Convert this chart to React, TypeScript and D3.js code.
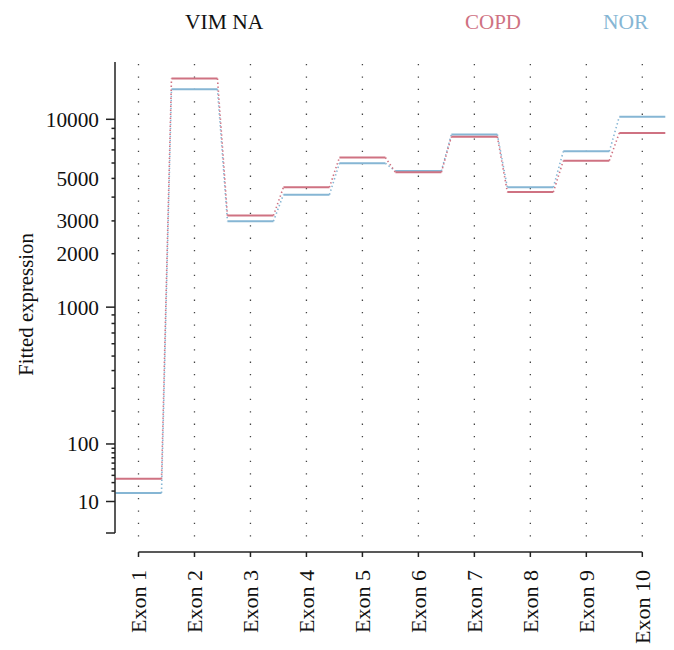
import React from "react";
import * as d3 from "d3";

const categories = ["Exon 1", "Exon 2", "Exon 3", "Exon 4", "Exon 5", "Exon 6", "Exon 7", "Exon 8", "Exon 9", "Exon 10"];
const copd = [35, 16000, 3200, 4500, 6400, 5380, 8170, 4250, 6170, 8530];
const nor = [18, 14150, 2990, 4120, 5980, 5460, 8380, 4500, 6880, 10300];
const labeledTicks = [10, 100, 1000, 2000, 3000, 5000, 10000];
const longTicks = [10, 100, 1000, 10000];
const minorTicks = [20, 30, 40, 50, 60, 70, 80, 90, 200, 300, 400, 500, 600, 700, 800, 900, 2000, 3000, 4000, 5000, 6000, 7000, 8000, 9000];

const RED = "#cf7282";
const BLUE = "#86b6d4";
const FONT = "'Liberation Serif', 'Times New Roman', serif";

const W = 674, H = 650;
const axisTop = 62, axisBottom = 533, axisX = 115, xAxisY = 552;
const halfW = 23;

// compressed log-like transform of the fitted expression axis
const gT = (v: number) => Math.log10(Math.pow(v, 0.75) + Math.pow(120, 0.75)) / 0.75;
const yLin = d3.scaleLinear().domain([gT(10), gT(10000)]).range([501.5, 119.3]);
const y = (v: number) => yLin(gT(v));
const x = d3.scalePoint<string>().domain(categories).range([138.5, 642.3]);

function series(vals: number[], color: string, key: string) {
  const segs = vals.map((v, i) => {
    const cx = x(categories[i]) as number;
    return <line key={key + "s" + i} x1={cx - halfW} x2={cx + halfW} y1={y(v)} y2={y(v)} stroke={color} strokeWidth={2} />;
  });
  const line = d3.line<[number, number]>();
  const conns = vals.slice(0, -1).map((v, i) => {
    const a: [number, number] = [(x(categories[i]) as number) + halfW, y(v)];
    const b: [number, number] = [(x(categories[i + 1]) as number) - halfW, y(vals[i + 1])];
    return <path key={key + "c" + i} d={line([a, b]) || ""} stroke={color} strokeWidth={1.6} strokeDasharray="1.4 2.6" fill="none" />;
  });
  return [...conns, ...segs];
}

export default function App() {
  return (
    <svg width={W} height={H} style={{ position: "absolute", left: 0, top: 0, background: "#fff" }} fontFamily={FONT}>
      {/* vertical dotted grid lines */}
      {categories.map((c) => (
        <line key={"g" + c} x1={x(c)} x2={x(c)} y1={axisTop + 2} y2={xAxisY - 6} stroke="#444" strokeWidth={1.3} strokeDasharray="1.3 11.1" />
      ))}
      {series(nor, BLUE, "n")}
      {series(copd, RED, "c")}
      {/* y axis */}
      <line x1={axisX} x2={axisX} y1={axisTop} y2={axisBottom} stroke="#222" strokeWidth={1.5} />
      <line x1={axisX - 9} x2={axisX} y1={axisBottom} y2={axisBottom} stroke="#222" strokeWidth={1.5} />
      {longTicks.map((t) => (
        <line key={"lt" + t} x1={axisX - 9} x2={axisX} y1={y(t)} y2={y(t)} stroke="#222" strokeWidth={1.5} />
      ))}
      {minorTicks.map((t) => (
        <line key={"mt" + t} x1={axisX - 3.5} x2={axisX} y1={y(t)} y2={y(t)} stroke="#222" strokeWidth={1.5} />
      ))}
      {labeledTicks.map((t) => (
        <text key={"tl" + t} x={99} y={y(t)} dy="0.35em" textAnchor="end" fontSize={21.3} fill="#111">{t}</text>
      ))}
      <text transform={`translate(33,${(axisTop + axisBottom) / 2 + 7}) rotate(-90)`} textAnchor="middle" fontSize={20.8} fill="#111">Fitted expression</text>
      {/* x axis */}
      <line x1={x(categories[0])} x2={x(categories[categories.length - 1])} y1={xAxisY} y2={xAxisY} stroke="#222" strokeWidth={1.5} />
      {categories.map((c) => (
        <g key={"xt" + c}>
          <line x1={x(c)} x2={x(c)} y1={xAxisY} y2={xAxisY + 5} stroke="#222" strokeWidth={1.5} />
          <text transform={`translate(${x(c)},${xAxisY + 18}) rotate(-90)`} dy="0.35em" textAnchor="end" fontSize={22} fill="#111">{c}</text>
        </g>
      ))}
      {/* titles */}
      <text x={185} y={29} fontSize={21.5} fill="#111">VIM NA</text>
      <text x={465} y={29} fontSize={21} fill={RED}>COPD</text>
      <text x={603} y={29} fontSize={21.5} fill={BLUE}>NOR</text>
    </svg>
  );
}
